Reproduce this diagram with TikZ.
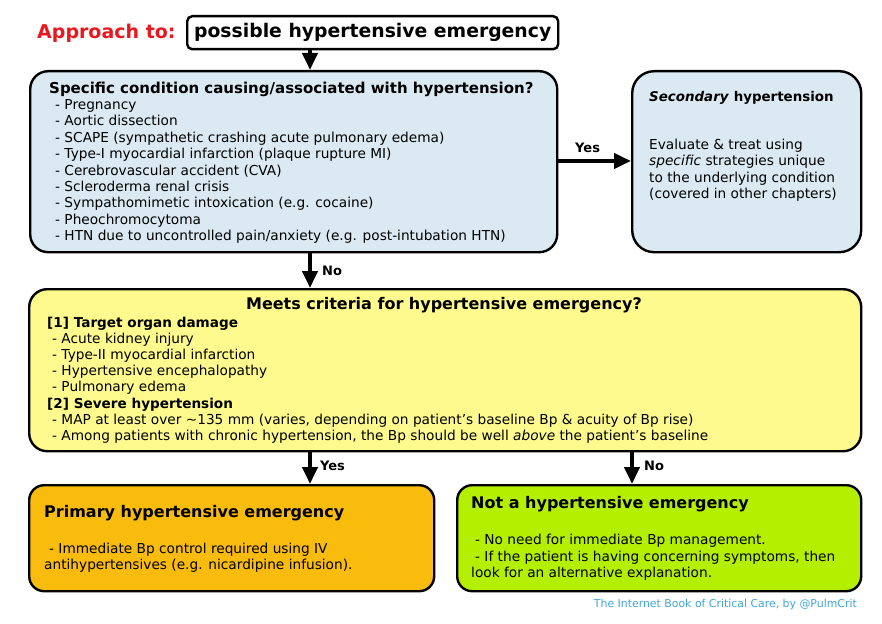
\documentclass[tikz,border=0pt]{standalone}
\usepackage{fontspec}
\setmainfont{DejaVu Sans}
\usetikzlibrary{arrows.meta}
\definecolor{blueF}{RGB}{219,234,242}
\definecolor{yellowF}{RGB}{254,250,142}
\definecolor{orangeF}{RGB}{249,188,12}
\definecolor{greenF}{RGB}{180,239,0}
\definecolor{redT}{RGB}{232,24,30}
\definecolor{footT}{RGB}{66,166,220}
\newcommand\bodyfnt{\fontsize{13.7}{16.4}\selectfont}
\newcommand\headfnt{\fontsize{15}{18}\selectfont\bfseries}
\newcommand\subfnt{\fontsize{13.6}{16.4}\selectfont\bfseries}
\newcommand\boxtitlefnt{\fontsize{16}{19}\selectfont\bfseries}
\begin{document}
\begin{tikzpicture}[x=1pt,y=-1pt,
  box/.style={draw, line width=2.4pt, rounded corners=18pt, anchor=north west, inner sep=0pt},
  txt/.style={inner sep=0pt, anchor=base west, font=\bodyfnt},
  lbl/.style={inner sep=0pt, anchor=base west, font=\fontsize{13}{15}\selectfont\bfseries},
  arr/.style={line width=4pt, -{Triangle[length=17pt,width=15pt]}}]
\useasboundingbox (0,0) rectangle (882,623);
\fill[white] (0,0) rectangle (882,623);

% header
\node[inner sep=0pt, anchor=base west, text=redT, font=\fontsize{19}{22}\selectfont\bfseries] (appr) at (37,38.5) {Approach to:};
\node[box, rounded corners=5pt, fill=white, minimum width=371pt, minimum height=33pt, font=\fontsize{18.8}{22}\selectfont\bfseries] (top) at (186,15) {possible hypertensive emergency};

% boxes
\node[box, fill=blueF, minimum width=527pt, minimum height=181pt] (cond) at (29,70) {};
\node[box, fill=blueF, rounded corners=22pt, minimum width=229pt, minimum height=181pt] (sec) at (631,70) {};
\node[box, fill=yellowF, minimum width=832pt, minimum height=162pt] (crit) at (28,288) {};
\node[box, fill=orangeF, rounded corners=15pt, minimum width=405pt, minimum height=106pt] (prim) at (28,484) {};
\node[box, fill=greenF, rounded corners=15pt, minimum width=404pt, minimum height=106pt] (notem) at (456,484) {};

% blue box text
\node[txt, font=\headfnt] (condT) at (49,93.5) {Specific condition causing/associated with hypertension?};
\foreach \t [count=\i] in {Pregnancy, Aortic dissection,
  {SCAPE (sympathetic crashing acute pulmonary edema)},
  {Type-I myocardial infarction (plaque rupture MI)},
  {Cerebrovascular accident (CVA)},
  {Scleroderma renal crisis},
  {Sympathomimetic intoxication (e.g. cocaine)},
  {Pheochromocytoma},
  {HTN due to uncontrolled pain/anxiety (e.g. post-intubation HTN)}}
  \node[txt] (cond\i) at (55,{109.5+16.4*(\i-1)}) {- \t};

% secondary box text
\node[txt, font=\fontsize{13.4}{16}\selectfont\bfseries] (secT) at (649,101.5) {\textit{Secondary} hypertension};
\node[txt] (sec1) at (649,149.5) {Evaluate \& treat using};
\node[txt] (sec2) at (649,165.9) {\textit{specific} strategies unique};
\node[txt] (sec3) at (649,182.3) {to the underlying condition};
\node[txt] (sec4) at (649,198.7) {(covered in other chapters)};

% yellow box text
\node[inner sep=0pt, anchor=base, font=\boxtitlefnt] (critT) at (444,309.5) {Meets criteria for hypertensive emergency?};
\node[txt, font=\subfnt] (crit1) at (47,327.3) {[1] Target organ damage};
\node[txt] (crit2) at (52,343.45) {- Acute kidney injury};
\node[txt] (crit3) at (52,359.6) {- Type-II myocardial infarction};
\node[txt] (crit4) at (52,375.75) {- Hypertensive encephalopathy};
\node[txt] (crit5) at (52,391.9) {- Pulmonary edema};
\node[txt, font=\subfnt] (crit6) at (47,408.05) {[2] Severe hypertension};
\node[txt] (crit7) at (52,424.2) {- MAP at least over \textasciitilde135 mm (varies, depending on patient’s baseline Bp \& acuity of Bp rise)};
\node[txt] (crit8) at (52,440.35) {- Among patients with chronic hypertension, the Bp should be well \textit{above} the patient’s baseline};

% primary box text
\node[txt, font=\boxtitlefnt] (primT) at (44,517.5) {Primary hypertensive emergency};
\node[txt] (prim1) at (49,553) {- Immediate Bp control required using IV};
\node[txt] (prim2) at (44,569.5) {antihypertensives (e.g. nicardipine infusion).};

% not-emergency box text
\node[txt, font=\boxtitlefnt] (notemT) at (471,508.5) {Not a hypertensive emergency};
\node[txt] (notem1) at (475,544.5) {- No need for immediate Bp management.};
\node[txt] (notem2) at (475,561) {- If the patient is having concerning symptoms, then};
\node[txt] (notem3) at (471,577.5) {look for an alternative explanation.};

% footer
\node[inner sep=0pt, anchor=base east, text=footT, font=\fontsize{10.9}{13}\selectfont] (foot) at (857,607) {The Internet Book of Critical Care, by @PulmCrit};

% connectors
\coordinate (xL) at (310,0);
\coordinate (xR) at (632,0);
\coordinate (yA) at (0,161);
\draw[arr] (top.south -| xL) -- (cond.north -| xL);
\draw[arr] (cond.south -| xL) -- (crit.north -| xL);
\draw[arr] (cond.east |- yA) -- (sec.west |- yA);
\draw[arr] (crit.south -| xL) -- (prim.north -| xL);
\draw[arr] (crit.south -| xR) -- (notem.north -| xR);

% labels
\node[lbl] (lblNo1) at (322,275.5) {No};
\node[lbl] (lblYes1) at (575,152) {Yes};
\node[lbl] (lblYes2) at (320,470.5) {Yes};
\node[lbl] (lblNo2) at (644,470.5) {No};
\end{tikzpicture}
\end{document}
